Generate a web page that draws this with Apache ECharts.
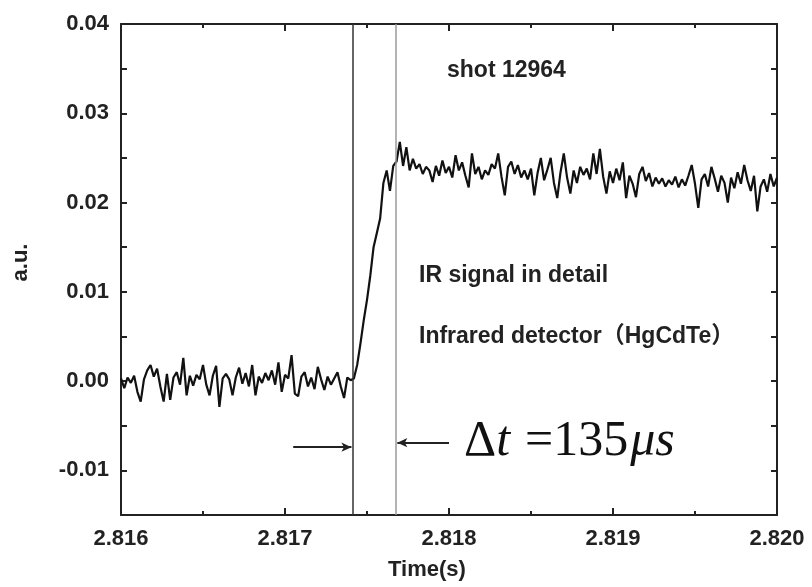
<!DOCTYPE html>
<html>
<head>
<meta charset="utf-8">
<script src="https://cdn.jsdelivr.net/npm/echarts@6/dist/echarts.min.js"></script>
<style>
  html, body { margin: 0; padding: 0; background: #fff; }
  #main { width: 812px; height: 587px; }
</style>
</head>
<body>
<div id="main"></div>
<script>
// sampling grid of the trace (s)
var tStart = 2.816;
var tStep = 0.00002;

// signal before the onset, a.u.
var baseline = [
  0.0003, -0.0008, 0.0004, -0.0002, 0.0006, -0.0012, -0.0023, 0.0002, 0.0012, 0.0018,
  0.0005, 0.0014, -0.0006, -0.0023, 0.0008, -0.0021, 0.0004, 0.0010, -0.0004, 0.0026,
  -0.0016, 0.0006, -0.0005, 0.0007, 0.0002, 0.0018, -0.0004, -0.0016, 0.0006, 0.0017,
  -0.0029, 0.0003, 0.0008, 0.0002, -0.0016, 0.0004, 0.0015, -0.0003, 0.0009, -0.0006,
  0.0018, -0.0016, 0.0005, -0.0002, 0.0009, 0.0001, 0.0012, -0.0004, 0.0021, -0.0012,
  0.0007, 0.0003, 0.0029, -0.0014, -0.0017, 0.0005, 0.0010, -0.0006, 0.0004, -0.0009,
  0.0016, 0.0002, -0.0010, 0.0005, -0.0004, 0.0003, 0.0010, -0.0006, -0.0019, 0.0004,
  0.0001
];
// the rising edge
var rise = [
  0.0003, 0.0018, 0.0042, 0.0068, 0.0091, 0.0118, 0.0150, 0.0166, 0.0182, 0.0222,
  0.0236, 0.0213, 0.0241, 0.0246, 0.0268
];
// the plateau after the rise
var plateau = [
  0.0241, 0.0262, 0.0236, 0.0249, 0.0238, 0.0243, 0.0232, 0.0240, 0.0236, 0.0223,
  0.0241, 0.0230, 0.0247, 0.0233, 0.0240, 0.0228, 0.0253, 0.0236, 0.0245, 0.0230,
  0.0217, 0.0255, 0.0232, 0.0240, 0.0226, 0.0236, 0.0231, 0.0243, 0.0238, 0.0255,
  0.0229, 0.0208, 0.0240, 0.0246, 0.0232, 0.0242, 0.0228, 0.0236, 0.0226, 0.0238,
  0.0208, 0.0233, 0.0250, 0.0225, 0.0237, 0.0250, 0.0222, 0.0205, 0.0234, 0.0255,
  0.0228, 0.0210, 0.0236, 0.0222, 0.0240, 0.0231, 0.0238, 0.0226, 0.0255, 0.0232,
  0.0260, 0.0229, 0.0210, 0.0235, 0.0222, 0.0238, 0.0225, 0.0245, 0.0205, 0.0230,
  0.0221, 0.0206, 0.0232, 0.0240, 0.0224, 0.0233, 0.0218, 0.0228, 0.0221, 0.0227,
  0.0218, 0.0225, 0.0220, 0.0229, 0.0217, 0.0226, 0.0219, 0.0230, 0.0242, 0.0221,
  0.0194, 0.0226, 0.0232, 0.0218, 0.0240, 0.0227, 0.0212, 0.0230, 0.0222, 0.0200,
  0.0228, 0.0216, 0.0234, 0.0221, 0.0242, 0.0225, 0.0213, 0.0230, 0.0190, 0.0218,
  0.0226, 0.0212, 0.0232, 0.0218, 0.0228
];

// marker lines (s) and arrows
var onsetLine = 2.817413;
var endLine = 2.817677;
var arrowLeft = [[2.81705, -0.0074], [2.817405, -0.0074]];
var arrowRight = [[2.818, -0.0069], [2.817685, -0.0069]];

var yMin = -0.015, yMax = 0.04;

var signal = baseline.concat(rise, plateau);
var points = signal.map(function (v, i) {
  return [+(tStart + i * tStep).toFixed(5), v];
});

var sans = "'Liberation Sans', Arial, 'Noto Sans CJK SC', sans-serif";
var serif = "'Liberation Serif', 'Times New Roman', serif";
var ink = '#222';

var chart = echarts.init(document.getElementById('main'));

function frameX(pos, showLabels) {
  return {
    type: 'value', position: pos, min: 2.816, max: 2.820, interval: 0.001,
    axisLine: { onZero: false, lineStyle: { color: ink, width: 2 } },
    axisTick: { inside: true, length: 7, lineStyle: { color: ink, width: 2 } },
    minorTick: { show: true, splitNumber: 2, length: 4, lineStyle: { color: ink, width: 2 } },
    splitLine: { show: false },
    axisLabel: {
      show: showLabels, margin: 13, color: ink, fontFamily: sans, fontWeight: 'bold', fontSize: 22,
      formatter: function (v) { return v.toFixed(3); }
    }
  };
}

function frameY(pos, showLabels) {
  return {
    type: 'value', position: pos, min: yMin, max: yMax, interval: 0.005,
    axisLine: { onZero: false, lineStyle: { color: ink, width: 2 } },
    axisTick: { inside: true, length: 6, lineStyle: { color: ink, width: 2 } },
    splitLine: { show: false },
    axisLabel: {
      show: showLabels, margin: 12, color: ink, fontFamily: sans, fontWeight: 'bold', fontSize: 22,
      formatter: function (v) {
        var k = Math.round(v * 1000);
        return k % 10 === 0 ? (k / 1000).toFixed(2) : '';
      }
    }
  };
}

var xBottom = frameX('bottom', true);
xBottom.name = 'Time(s)';
xBottom.nameLocation = 'middle';
xBottom.nameGap = 44;
xBottom.nameTextStyle = { color: ink, fontFamily: sans, fontWeight: 'bold', fontSize: 22, padding: [0, 44, 0, 0] };

var yLeft = frameY('left', true);
yLeft.name = 'a.u.';
yLeft.nameLocation = 'middle';
yLeft.nameGap = 89;
yLeft.nameTextStyle = { color: ink, fontFamily: sans, fontWeight: 'bold', fontSize: 22, padding: [0, 0, 0, 14] };

function vLine(x, color) {
  return [
    { coord: [x, yMin], symbol: 'none', lineStyle: { color: color, width: 1.5, type: 'solid' } },
    { coord: [x, yMax], symbol: 'none' }
  ];
}

function arrow(pair) {
  return [
    { coord: pair[0], symbol: 'none', lineStyle: { color: ink, width: 2, type: 'solid' } },
    { coord: pair[1], symbol: 'arrow', symbolSize: [7, 10] }
  ];
}

var option = {
  animation: false,
  backgroundColor: '#fff',
  grid: { left: 121, right: 35, top: 24, bottom: 72 },
  xAxis: [xBottom, frameX('top', false)],
  yAxis: [yLeft, frameY('right', false)],
  series: [{
    type: 'line',
    data: points,
    showSymbol: false,
    lineStyle: { color: '#111', width: 2.2 },
    markLine: {
      silent: true,
      symbol: 'none',
      label: { show: false },
      data: [
        vLine(onsetLine, '#333'),
        vLine(endLine, '#9a9a9a'),
        arrow(arrowLeft),
        arrow(arrowRight)
      ]
    }
  }],
  graphic: [
    { type: 'text', left: 447, top: 59, style: { text: 'shot 12964', fill: ink, font: 'bold 23px ' + sans } },
    { type: 'text', left: 419, top: 264, style: { text: 'IR signal in detail', fill: ink, font: 'bold 23px ' + sans } },
    { type: 'text', left: 419, top: 325, style: { text: 'Infrared detector（HgCdTe）', fill: ink, font: 'bold 23px ' + sans } },
    {
      type: 'text', left: 464, top: 412,
      style: {
        text: '{u|Δ}{i|t}{s|\u00a0}{u|=135}{g|\u00a0}{i|μs}',
        fill: '#111',
        rich: {
          u: { fontFamily: serif, fontSize: 50, fill: '#111' },
          i: { fontFamily: serif, fontSize: 50, fontStyle: 'italic', fill: '#111' },
          s: { fontFamily: serif, fontSize: 60, fill: '#111' },
          g: { fontFamily: serif, fontSize: 8, fill: '#111' }
        }
      }
    }
  ]
};

chart.setOption(option);
</script>
</body>
</html>
